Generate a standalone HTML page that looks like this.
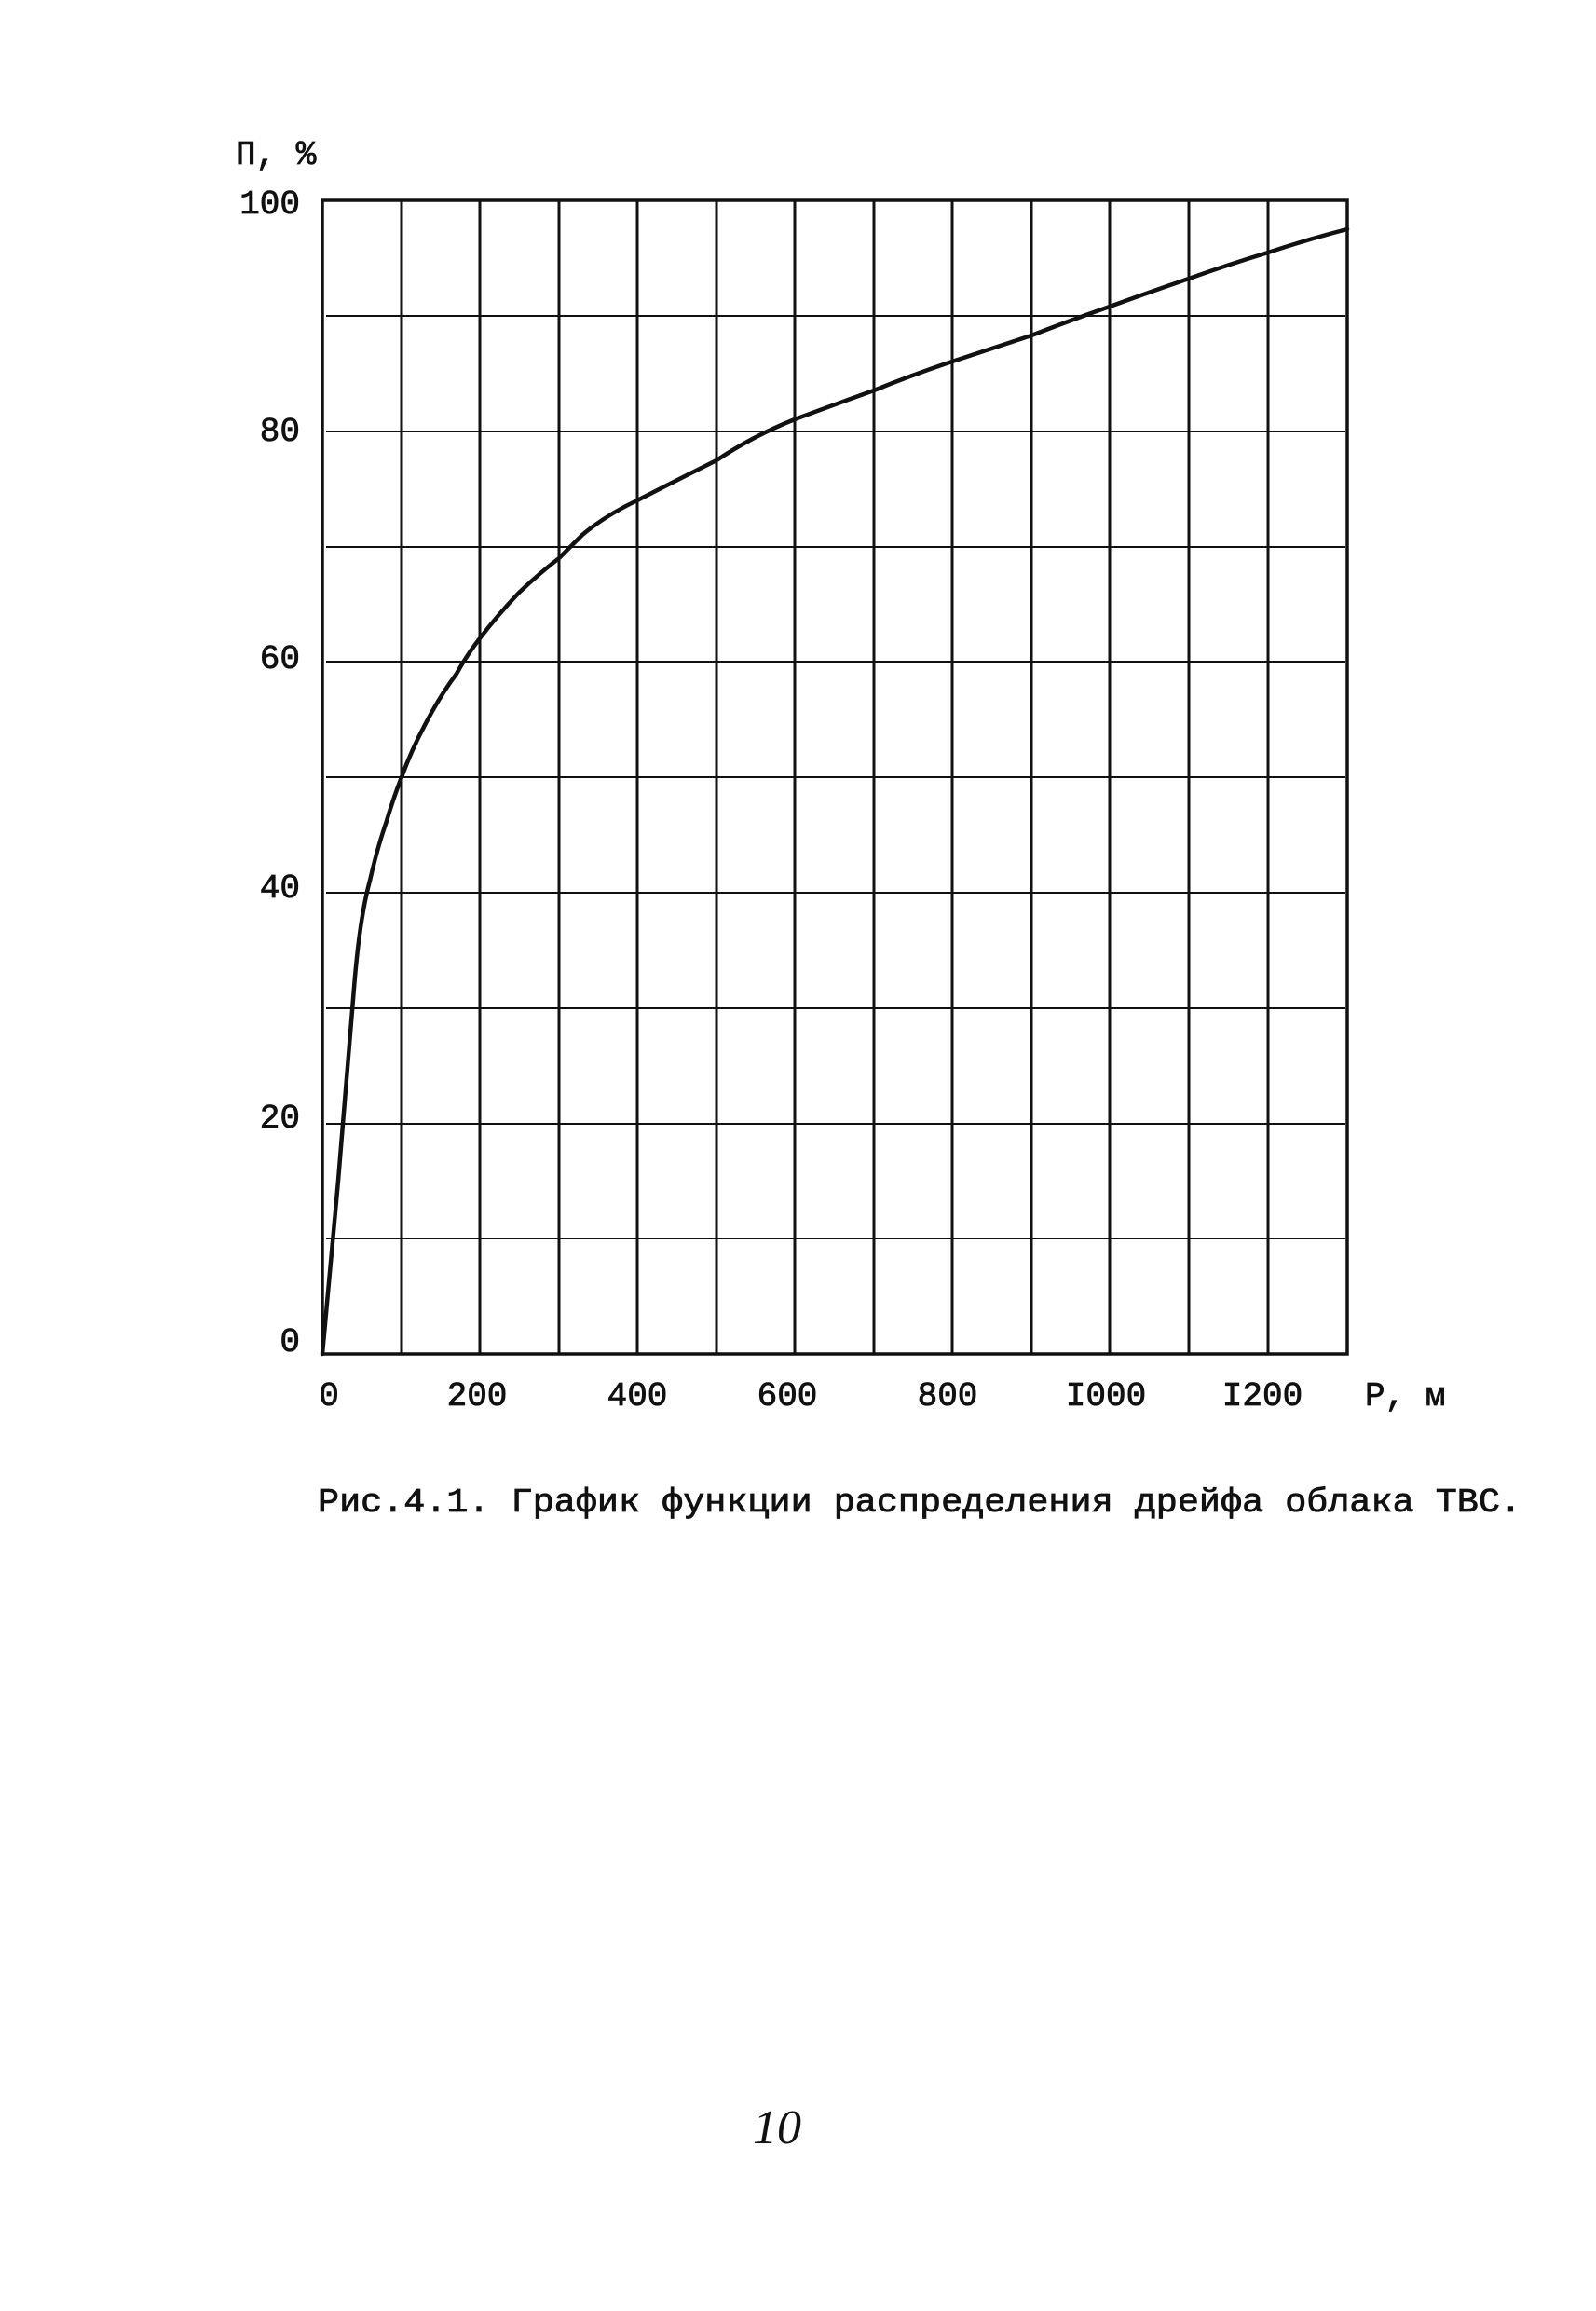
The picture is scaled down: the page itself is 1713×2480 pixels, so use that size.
<!DOCTYPE html>
<html><head><meta charset="utf-8"><style>
html,body{margin:0;padding:0;background:#fff}
svg{display:block}
text{font-family:"Liberation Mono","DejaVu Sans Mono",monospace;fill:#111;stroke:#111;stroke-width:0.8}
</style></head><body>
<svg width="1713" height="2480" viewBox="0 0 1713 2480" xmlns="http://www.w3.org/2000/svg">
<g stroke="#111" fill="none">
<g stroke-width="2">
<line x1="350" y1="339" x2="1444" y2="339"/>
<line x1="350" y1="463" x2="1444" y2="463"/>
<line x1="350" y1="587" x2="1444" y2="587"/>
<line x1="350" y1="710" x2="1444" y2="710"/>
<line x1="350" y1="834" x2="1444" y2="834"/>
<line x1="350" y1="958" x2="1444" y2="958"/>
<line x1="350" y1="1082" x2="1444" y2="1082"/>
<line x1="350" y1="1206" x2="1444" y2="1206"/>
<line x1="350" y1="1329" x2="1444" y2="1329"/>
</g>
<g stroke-width="3">
<line x1="431" y1="215" x2="431" y2="1453"/>
<line x1="515" y1="215" x2="515" y2="1453"/>
<line x1="600" y1="215" x2="600" y2="1453"/>
<line x1="684" y1="215" x2="684" y2="1453"/>
<line x1="769" y1="215" x2="769" y2="1453"/>
<line x1="853" y1="215" x2="853" y2="1453"/>
<line x1="938" y1="215" x2="938" y2="1453"/>
<line x1="1022" y1="215" x2="1022" y2="1453"/>
<line x1="1107" y1="215" x2="1107" y2="1453"/>
<line x1="1191" y1="215" x2="1191" y2="1453"/>
<line x1="1276" y1="215" x2="1276" y2="1453"/>
<line x1="1361" y1="215" x2="1361" y2="1453"/>
</g>
<rect x="346" y="215" width="1100" height="1238" stroke-width="3.5"/>
<path stroke-width="4.5" stroke-linejoin="round" stroke-linecap="round" d="M346,1453 L363,1267 L380,1060 Q386,985 397,945 Q405,910 414,884 Q422,857 431,834 Q442,804 456,778 Q472,747 490,723 Q501,703 515,685 Q535,659 557,636 Q578,616 600,599 Q612,587 625,574 Q650,553 684,537 Q725,516 769,494 Q808,468 853,450 Q896,434 938,419 Q980,402 1022,388 Q1065,374 1107,360 Q1148,344 1191,329 Q1232,314 1276,299 Q1318,284 1361,271 Q1403,257 1446,246"/>
</g>
<g font-size="36">
<text x="253" y="176">П, %</text>
<g text-anchor="end">
<text x="322" y="229">100</text>
<text x="322" y="473">80</text>
<text x="322" y="717">60</text>
<text x="322" y="963">40</text>
<text x="322" y="1210">20</text>
<text x="322" y="1450">0</text>
</g>
<g text-anchor="middle">
<text x="353" y="1508">0</text>
<text x="512" y="1508">200</text>
<text x="684" y="1508">400</text>
<text x="845" y="1508">600</text>
<text x="1017" y="1508">800</text>
<text x="1187" y="1508">I000</text>
<text x="1355" y="1508">I200</text>
</g>
<text x="1465" y="1508">P, м</text>
<text x="341" y="1622" textLength="1292" lengthAdjust="spacingAndGlyphs">Рис.4.1. График функции распределения дрейфа облака ТВС.</text>
</g>
<text x="808" y="2300" font-size="52" font-style="italic" style="font-family:'Liberation Serif',serif;stroke-width:0">10</text>
</svg>
</body></html>
